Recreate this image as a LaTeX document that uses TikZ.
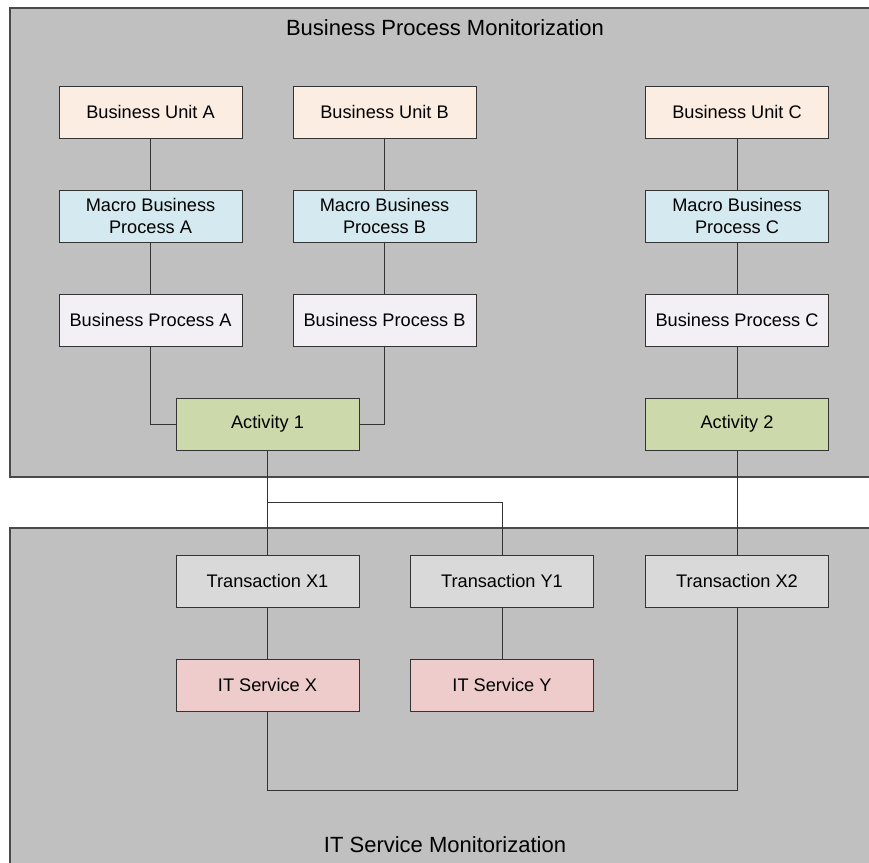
\documentclass[tikz,border=0pt]{standalone}
\usepackage{fontspec}
\setmainfont{Liberation Sans}
\definecolor{panelgray}{HTML}{C0C0C0}
\definecolor{edgegray}{HTML}{4A4A4A}
\definecolor{unitfill}{HTML}{FCEDE3}
\definecolor{macrofill}{HTML}{D4EAF0}
\definecolor{procfill}{HTML}{F2F0F5}
\definecolor{actfill}{HTML}{CCDAAB}
\definecolor{transfill}{HTML}{D9D9D9}
\definecolor{svcfill}{HTML}{EECCCB}
\tikzset{
  panel/.style={fill=panelgray, draw=edgegray, line width=1.3pt},
  box/.style={draw=black!80, line width=1pt, minimum width=183pt, minimum height=52pt,
    inner sep=0pt, align=center, font=\fontsize{18.2}{22}\selectfont},
  unitbox/.style={box, fill=unitfill},
  macrobox/.style={box, fill=macrofill},
  procbox/.style={box, fill=procfill},
  actbox/.style={box, fill=actfill},
  transbox/.style={box, fill=transfill},
  svcbox/.style={box, fill=svcfill},
  conn/.style={draw=black!80, line width=1pt},
  paneltitle/.style={font=\fontsize{22}{26}\selectfont, inner sep=0pt}
}
\begin{document}
\begin{tikzpicture}[x=1pt, y=-1pt]
  \clip (0,0) rectangle (869,862);
  \fill[white] (0,0) rectangle (869,862);

  % monitoring layers
  \draw[panel] (10,8) rectangle (890,477);
  \draw[panel] (10,528) rectangle (890,880);
  \node[paneltitle] (toptitle) at (445,28) {Business Process Monitorization};
  \node[paneltitle] (bottitle) at (445,845) {IT Service Monitorization};

  % business side
  \node[unitbox] (bua) at (150.5,112) {Business Unit A};
  \node[unitbox] (bub) at (384.5,112) {Business Unit B};
  \node[unitbox] (buc) at (737,112) {Business Unit C};

  \node[macrobox] (mba) at (150.5,216) {Macro Business\\Process A};
  \node[macrobox] (mbb) at (384.5,216) {Macro Business\\Process B};
  \node[macrobox] (mbc) at (737,216) {Macro Business\\Process C};

  \node[procbox] (bpa) at (150.5,320) {Business Process A};
  \node[procbox] (bpb) at (384.5,320) {Business Process B};
  \node[procbox] (bpc) at (737,320) {Business Process C};

  \node[actbox] (act1) at (267.5,424) {Activity 1};
  \node[actbox] (act2) at (737,424) {Activity 2};

  % IT side
  \node[transbox] (trx1) at (267.5,581) {Transaction X1};
  \node[transbox] (try1) at (502,581) {Transaction Y1};
  \node[transbox] (trx2) at (737,581) {Transaction X2};

  \node[svcbox] (svx) at (267.5,685) {IT Service X};
  \node[svcbox] (svy) at (502,685) {IT Service Y};

  % connectors
  \draw[conn] (bua) -- (mba);
  \draw[conn] (mba) -- (bpa);
  \draw[conn] (bub) -- (mbb);
  \draw[conn] (mbb) -- (bpb);
  \draw[conn] (buc) -- (mbc);
  \draw[conn] (mbc) -- (bpc);
  \draw[conn] (bpa.south) |- (act1.west);
  \draw[conn] (bpb.south) |- (act1.east);
  \draw[conn] (bpc) -- (act2);
  \draw[conn] (act1) -- (trx1);
  \draw[conn] (act1.south) -- ++(0,52) -| (try1.north);
  \draw[conn] (act2) -- (trx2);
  \draw[conn] (trx1) -- (svx);
  \draw[conn] (try1) -- (svy);
  \draw[conn] (svx.south) -- ++(0,79) -| (trx2.south);
\end{tikzpicture}
\end{document}
